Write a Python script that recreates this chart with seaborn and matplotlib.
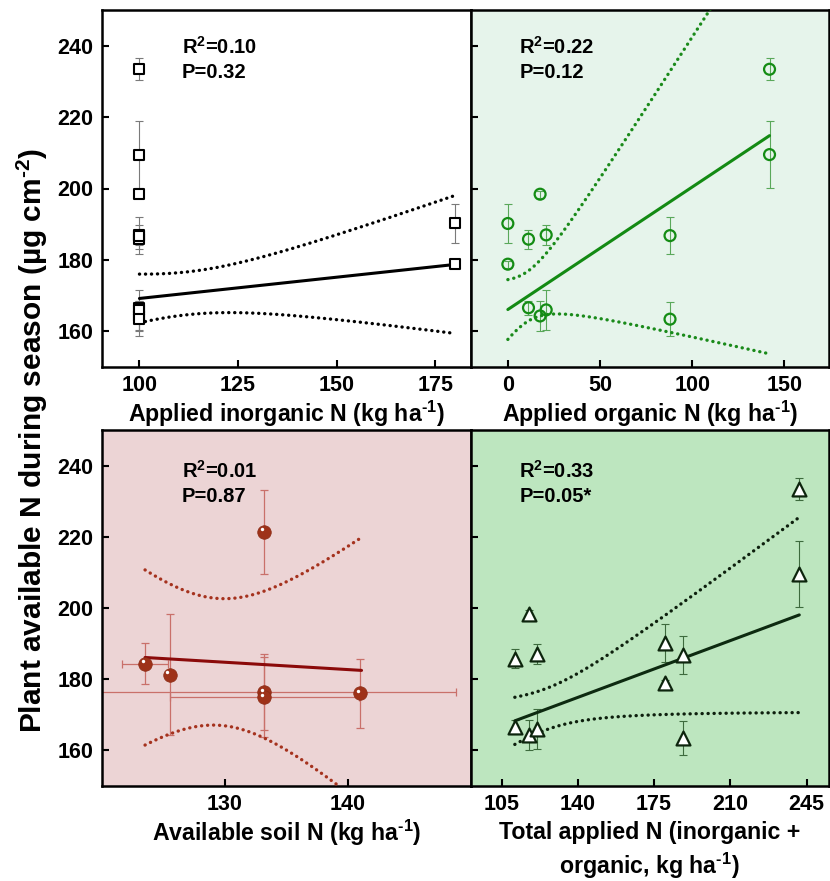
import numpy as np
import pandas as pd
import matplotlib
matplotlib.use("Agg")
import matplotlib.pyplot as plt
from matplotlib import transforms
import seaborn as sns

# ---------------- data ----------------
inorganic_n = [180, 180, 100, 100, 100, 100, 100, 100, 100, 100, 100, 100]
organic_n = [0, 0, 11.2, 11.2, 17.5, 17.5, 20.8, 20.8, 88, 88, 142, 142]
total_n = [179.9, 179.9, 111.1, 111.1, 117.7, 117.7, 121.1, 121.1, 188.1, 188.1, 241.6, 241.6]
plant_n = [190.2, 178.8, 185.8, 166.6, 198.4, 164.3, 187.0, 166.0, 186.8, 163.4, 233.4, 209.5]
plant_n_err = [5.4, 1.0, 2.7, 2.0, 1.0, 4.2, 2.8, 5.6, 5.2, 4.8, 3.1, 9.3]

soil_n = [123.5, 125.5, 133.2, 133.2, 133.2, 141.0]
soil_n_err = [1.9, 0.0, 15.6, 7.7, 0.0, 0.0]
soil_plant_n = [184.4, 181.3, 176.4, 175.0, 221.4, 176.1]
soil_plant_n_err = [5.7, 17.0, 10.6, 11.3, 11.8, 9.7]

# fitted regression lines and confidence bands (TL, TR, BL, BR)
fit_intercept = [157.3, 166.1, 211.54, 142.97]
fit_slope = [0.119, 0.343, -0.206, 0.228]
fit_x_start = [100, 0, 123.5, 111.1]
fit_x_end = [180, 142, 141.1, 241.6]
ci_min_halfwidth = [6.0, 7.0, 17.8, 5.8]
ci_growth = [0.27, 0.46, 2.83, 0.23]
ci_center = [112, 10, 129.5, 125]

r2_labels = ["0.10", "0.22", "0.01", "0.33"]
p_labels = ["0.32", "0.12", "0.87", "0.05*"]

x_labels = [r"Applied inorganic N (kg ha$^{\text{-1}}$)",
            r"Applied organic N (kg ha$^{\text{-1}}$)",
            r"Available soil N (kg ha$^{\text{-1}}$)",
            "Total applied N (inorganic +\n" + r"organic, kg ha$^{\text{-1}}$)"]
x_ticks = [[100, 125, 150, 175], [0, 50, 100, 150], [130, 140], [105, 140, 175, 210, 245]]
y_ticks = [160, 180, 200, 220, 240]
y_label = "Plant available N during season (\u00b5g cm" + r"$^{\text{-2}}$)"

treat = pd.DataFrame({"inorganic": inorganic_n, "organic": organic_n,
                      "total": total_n, "plant": plant_n, "err": plant_n_err})
soil = pd.DataFrame({"soil": soil_n, "xerr": soil_n_err,
                     "plant": soil_plant_n, "err": soil_plant_n_err})

# ---------------- style ----------------
sns.set_theme(style="white")
plt.rcParams["font.family"] = ["Liberation Sans", "DejaVu Sans"]
plt.rcParams["font.weight"] = "bold"
plt.rcParams["text.color"] = "black"
plt.rcParams["axes.labelcolor"] = "black"
plt.rcParams["xtick.color"] = "black"
plt.rcParams["ytick.color"] = "black"
plt.rcParams["mathtext.fontset"] = "custom"
plt.rcParams["mathtext.rm"] = "Liberation Sans:bold"
plt.rcParams["mathtext.it"] = "Liberation Sans:bold"
plt.rcParams["mathtext.bf"] = "Liberation Sans:bold"
plt.rcParams["mathtext.default"] = "regular"

W, H = 830, 881
fig = plt.figure(figsize=(W / 100, H / 100), dpi=100)

def box(l, r, t, b):
    return [l / W, 1 - b / H, (r - l) / W, (b - t) / H]

ax_tl = fig.add_axes(box(102, 471, 10, 367))
ax_tr = fig.add_axes(box(471, 828.5, 10, 367))
ax_bl = fig.add_axes(box(102, 471, 430, 786))
ax_br = fig.add_axes(box(471, 828.5, 430, 786))
axes = [ax_tl, ax_tr, ax_bl, ax_br]

bgs = ["#ffffff", "#e6f4eb", "#ecd4d5", "#bde6bf"]
xlims = [(90.5, 184.1), (-20, 174), (120, 150), (91, 255)]
line_cols = ["#000000", "#138a13", "#8b0a0a", "#0d2a10"]
dot_cols = ["#000000", "#1a8a1a", "#a5321e", "#0d1f0d"]

for i, ax in enumerate(axes):
    ax.set_facecolor(bgs[i])
    for s in ax.spines.values():
        s.set_linewidth(1.8)
        s.set_color("black")
    ax.set_xlim(*xlims[i])
    ax.set_ylim(150, 250)
    ax.set_xticks(x_ticks[i])
    ax.set_yticks(y_ticks)
    ax.tick_params(direction="in", length=5, width=1.5, labelsize=15.5, pad=6,
                   colors="black", bottom=True, left=True)
    for lab in ax.get_xticklabels() + ax.get_yticklabels():
        lab.set_fontweight("bold")
    if i in (1, 3):
        ax.tick_params(labelleft=False)
    # regression line and confidence band
    xs = np.linspace(fit_x_start[i], fit_x_end[i], 200)
    fit = fit_intercept[i] + fit_slope[i] * xs
    hw = np.sqrt(ci_min_halfwidth[i] ** 2 + (ci_growth[i] * (xs - ci_center[i])) ** 2)
    sns.lineplot(x=xs, y=fit, ax=ax, color=line_cols[i], lw=2.2, zorder=3)
    for band in (fit + hw, fit - hw):
        ax.plot(xs, band, color=dot_cols[i], lw=2.4, zorder=3,
                linestyle=(0, (0.05, 1.75)), dash_capstyle="round")
    ax.set_xlabel(x_labels[i], fontsize=16.7, fontweight="bold",
                  labelpad=4 if i == 3 else 2, linespacing=1.3)
    ax.set_ylabel("")
    tx = 0.135 if i in (1, 3) else 0.216
    ax.text(tx, 0.896 if i < 2 else 0.885, "R$^{2}$=" + r2_labels[i],
            transform=ax.transAxes, fontsize=14.5, fontweight="bold",
            va="center", ha="left")
    ax.text(tx, 0.826 if i < 2 else 0.812, "P=" + p_labels[i],
            transform=ax.transAxes, fontsize=14.5, fontweight="bold",
            va="center", ha="left")

# top-left: inorganic N
ax_tl.errorbar(treat["inorganic"], treat["plant"], yerr=treat["err"], fmt="none",
               ecolor="#7a7a7a", elinewidth=0.8, capsize=3, capthick=0.8, zorder=2)
sns.scatterplot(data=treat, x="inorganic", y="plant", ax=ax_tl, marker="s", s=60,
                facecolor="white", edgecolor="black", linewidth=1.5, zorder=4)

# top-right: organic N
ax_tr.errorbar(treat["organic"], treat["plant"], yerr=treat["err"], fmt="none",
               ecolor="#5aa85a", elinewidth=0.8, capsize=3, capthick=0.8, zorder=2)
sns.scatterplot(data=treat, x="organic", y="plant", ax=ax_tr, marker="o", s=62,
                facecolor="none", edgecolor="#148c14", linewidth=1.6, zorder=4)

# bottom-left: soil N
ax_bl.errorbar(soil["soil"], soil["plant"], yerr=soil["err"], xerr=soil["xerr"],
               fmt="none", ecolor="#c9706a", elinewidth=0.9, capsize=3, capthick=0.9,
               zorder=2)
sns.scatterplot(data=soil, x="soil", y="plant", ax=ax_bl, marker="o", s=95,
                color="#9e3219", edgecolor="#8a2a14", linewidth=0.5, zorder=4)
hl = transforms.offset_copy(ax_bl.transData, fig=fig, x=-1.6, y=1.8, units="points")
ax_bl.scatter(soil["soil"], soil["plant"], s=6, color="white", transform=hl,
              zorder=5, linewidths=0)

# bottom-right: total N
ax_br.errorbar(treat["total"], treat["plant"], yerr=treat["err"], fmt="none",
               ecolor="#3d6a3d", elinewidth=0.8, capsize=3, capthick=0.8, zorder=2)
sns.scatterplot(data=treat, x="total", y="plant", ax=ax_br, marker="^", s=100,
                facecolor="white", edgecolor="#0d250d", linewidth=1.6, zorder=4)

for ax in axes:
    ax.set_ylabel("")

fig.text(32 / W, 1 - 440 / H, y_label, rotation=90, fontsize=21.5, fontweight="bold",
         ha="center", va="center")

fig.savefig("out.png", dpi=100)
